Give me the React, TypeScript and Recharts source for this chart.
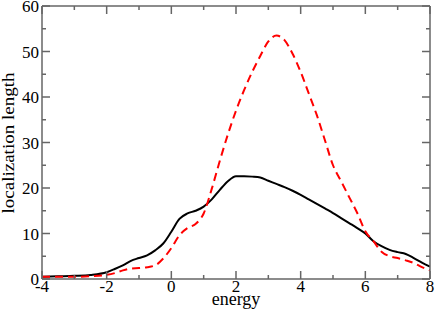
import React from "react"
import { Label, Line, LineChart, XAxis, YAxis } from "recharts"

const energy = [
  -4, -3.5, -3, -2.5, -2, -1.75, -1.5, -1.25, -1, -0.75, -0.5, -0.25, 0, 0.25,
  0.5, 0.75, 1, 1.25, 1.5, 1.75, 2, 2.25, 2.5, 2.75, 3, 3.25, 3.5, 3.75, 4,
  4.25, 4.5, 4.75, 5, 5.25, 5.5, 5.75, 6, 6.25, 6.5, 6.75, 7, 7.25, 7.5, 7.75, 8,
]

const solidSeries = [
  0.5, 0.6, 0.7, 0.9, 1.5, 2.2, 3.0, 4.0, 4.6, 5.2, 6.3, 7.8, 10.4, 13.2, 14.4,
  15.0, 15.9, 17.5, 19.6, 21.5, 22.6, 22.6, 22.5, 22.3, 21.6, 20.9, 20.2, 19.4,
  18.5, 17.5, 16.5, 15.5, 14.5, 13.4, 12.3, 11.2, 10.0, 8.3, 7.2, 6.4, 5.9, 5.5,
  4.6, 3.6, 2.7,
]

const dashedSeries = [
  0.5, 0.5, 0.5, 0.6, 0.9, 1.3, 1.9, 2.3, 2.4, 2.6, 3.0, 4.5, 6.8, 9.6, 11.2,
  12.1, 14.4, 19.8, 26.0, 31.8, 37.0, 41.5, 45.5, 49.0, 52.2, 53.5, 52.5, 49.5,
  45.5, 40.8, 36.0, 30.5, 25.0, 21.5, 18.0, 14.5, 10.5, 8.3, 6.0, 5.0, 4.6, 4.1,
  3.5, 2.6, 1.9,
]

const xTicks = [-4, -3, -2, -1, 0, 1, 2, 3, 4, 5, 6, 7, 8]
const yTicks = [0, 5, 10, 15, 20, 25, 30, 35, 40, 45, 50, 55, 60]

const data = energy.map((e, i) => ({
  energy: e,
  solid: solidSeries[i],
  dashed: dashedSeries[i],
}))

const AXIS = "#666666"
const textStyle = { fontFamily: "'Liberation Serif', 'DejaVu Serif', serif" }

const isMajorX = (v: number) => v % 2 === 0
const isMajorY = (v: number) => v % 10 === 0

const BottomTick = ({ x, y, payload }: any) => {
  const major = isMajorX(payload.value)
  return (
    <g>
      <line x1={x} x2={x} y1={y} y2={y - (major ? 8 : 4)} stroke={AXIS} strokeWidth={1.5} />
      {major && (
        <text x={x} y={y + 13} textAnchor="middle" fontSize={17} style={textStyle} fill="#000">
          {payload.value}
        </text>
      )}
    </g>
  )
}

const TopTick = ({ x, y, payload }: any) => {
  const major = isMajorX(payload.value)
  return <line x1={x} x2={x} y1={y} y2={y + (major ? 8 : 4)} stroke={AXIS} strokeWidth={1.5} />
}

const LeftTick = ({ x, y, payload }: any) => {
  const major = isMajorY(payload.value)
  return (
    <g>
      <line x1={x} x2={x + (major ? 8 : 4)} y1={y} y2={y} stroke={AXIS} strokeWidth={1.5} />
      {major && (
        <text x={x - 3} y={y + 6} textAnchor="end" fontSize={17} style={textStyle} fill="#000">
          {payload.value}
        </text>
      )}
    </g>
  )
}

const RightTick = ({ x, y, payload }: any) => {
  const major = isMajorY(payload.value)
  return <line x1={x} x2={x - (major ? 8 : 4)} y1={y} y2={y} stroke={AXIS} strokeWidth={1.5} />
}

export default function App() {
  return (
    <div style={{ position: "absolute", left: 0, top: 0 }}>
      <LineChart width={436} height={313} data={data} margin={{ top: 0, right: 0, bottom: 0, left: 0 }}>
        <XAxis
          dataKey="energy"
          type="number"
          domain={[-4, 8]}
          ticks={xTicks}
          height={34}
          tickSize={0}
          tickMargin={0}
          tickLine={false}
          axisLine={{ stroke: AXIS, strokeWidth: 1.5 }}
          tick={BottomTick}
          interval={0}
          allowDataOverflow
        >
          <Label
            content={() => (
              <text x={236} y={305} textAnchor="middle" fontSize={18} style={textStyle} fill="#000">
                energy
              </text>
            )}
          />
        </XAxis>
        <XAxis
          xAxisId="top"
          orientation="top"
          dataKey="energy"
          type="number"
          domain={[-4, 8]}
          ticks={xTicks}
          height={6}
          tickSize={0}
          tickMargin={0}
          tickLine={false}
          axisLine={{ stroke: AXIS, strokeWidth: 1.5 }}
          tick={TopTick}
          interval={0}
          allowDataOverflow
        />
        <YAxis
          type="number"
          domain={[0, 60]}
          ticks={yTicks}
          width={42}
          tickSize={0}
          tickMargin={0}
          tickLine={false}
          axisLine={{ stroke: AXIS, strokeWidth: 1.5 }}
          tick={LeftTick}
          interval={0}
          allowDataOverflow
        >
          <Label
            content={() => (
              <text
                x={14}
                y={143}
                transform="rotate(-90 14 143)"
                textAnchor="middle"
                fontSize={17}
                textLength={141}
                lengthAdjust="spacingAndGlyphs"
                style={textStyle}
                fill="#000"
              >
                localization length
              </text>
            )}
          />
        </YAxis>
        <YAxis
          yAxisId="right"
          orientation="right"
          type="number"
          domain={[0, 60]}
          ticks={yTicks}
          width={6}
          tickSize={0}
          tickMargin={0}
          tickLine={false}
          axisLine={{ stroke: AXIS, strokeWidth: 1.5 }}
          tick={RightTick}
          interval={0}
          allowDataOverflow
        />
        <Line
          type="monotone"
          dataKey="solid"
          stroke="#000000"
          strokeWidth={2}
          dot={false}
          isAnimationActive={false}
        />
        <Line
          type="monotone"
          dataKey="dashed"
          stroke="#ff0000"
          strokeWidth={2}
          strokeDasharray="8 5"
          dot={false}
          isAnimationActive={false}
        />
      </LineChart>
    </div>
  )
}
